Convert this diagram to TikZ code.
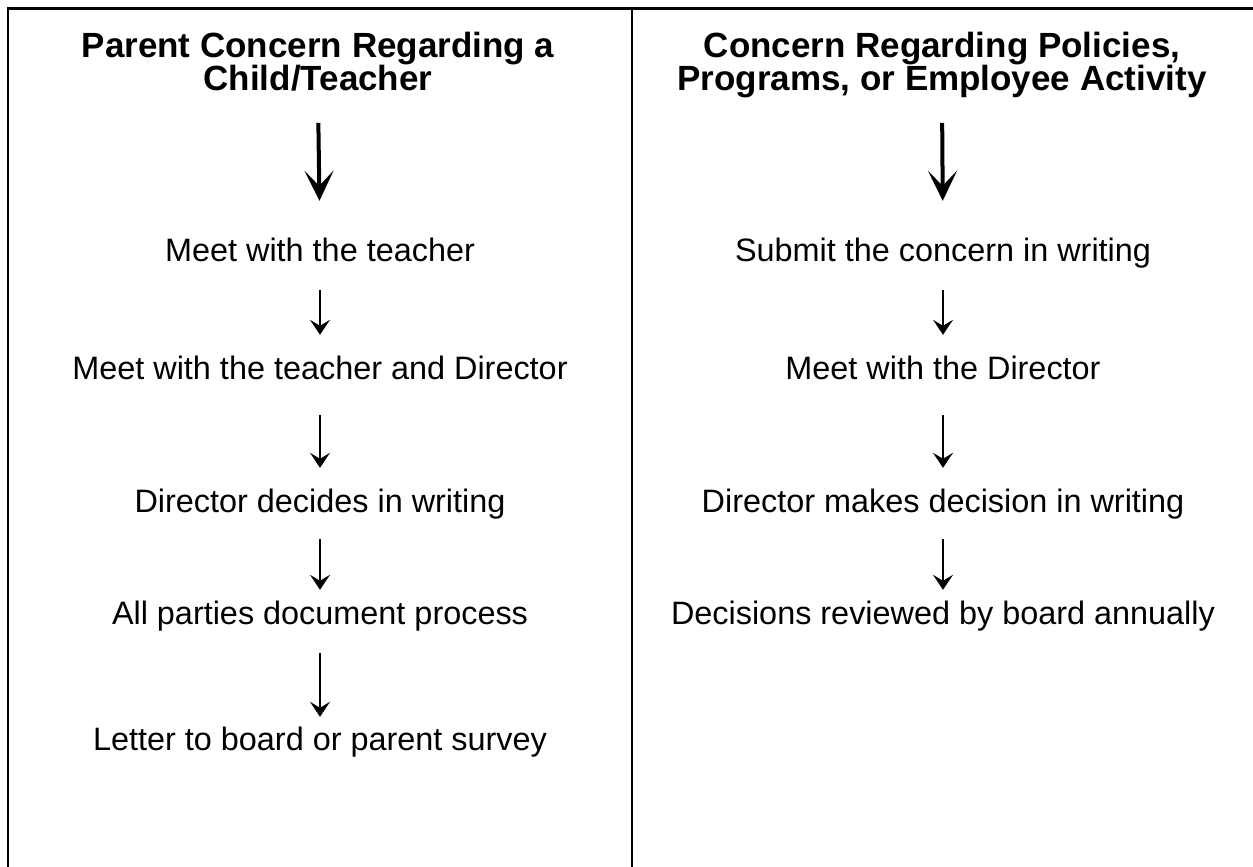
\documentclass[tikz,border=0pt]{standalone}
\usepackage{fontspec}
\setmainfont{Liberation Sans}
\usetikzlibrary{arrows.meta}

\tikzset{
  frame/.style={line width=2.6pt},
  head/.style={inner sep=0pt, anchor=north, align=center,
    font=\fontsize{35}{33}\selectfont\bfseries},
  stepbox/.style={inner sep=0pt, anchor=base, text height=24pt, text depth=7pt,
    font=\fontsize{32.4}{40}\selectfont},
  bigarrow/.style={line width=4pt,
    -{Stealth[length=30pt, width=29pt, inset=15pt]}},
  smallarrow/.style={line width=2.8pt,
    -{Stealth[length=15pt, width=20pt, inset=6pt]}},
  gap/.style 2 args={shorten <=#1pt, shorten >=#2pt}
}

\begin{document}
\begin{tikzpicture}[x=1pt, y=-1pt]
\useasboundingbox (0,0) rectangle (1253,867);

% table rules
\draw[frame] (8,867) -- (8,8.3) -- (1253,8.3);
\draw[frame] (632,8.3) -- (632,867);

% left column
\node[head] (h1) at (318,31.6) {Parent Concern Regarding a\\Child/Teacher\rule[-8pt]{0pt}{8pt}};
\node[stepbox] (l1) at (320,261) {Meet with the teacher};
\node[stepbox] (l2) at (320,379) {Meet with the teacher and Director};
\node[stepbox] (l3) at (320,512) {Director decides in writing};
\node[stepbox] (l4) at (320,624) {All parties document process};
\node[stepbox] (l5) at (320,750) {Letter to board or parent survey};

\draw[bigarrow, gap={24.5}{36}] (h1.south) -- (l1.north);
\draw[smallarrow, gap={22}{20}] (l1.south) -- (l2.north);
\draw[smallarrow, gap={29}{20}] (l2.south) -- (l3.north);
\draw[smallarrow, gap={20}{10}] (l3.south) -- (l4.north);
\draw[smallarrow, gap={22}{9}] (l4.south) -- (l5.north);

% right column
\node[head] (h2) at (942,31.6) {Concern Regarding Policies,\\Programs, or Employee Activity\rule[-8pt]{0pt}{8pt}};
\node[stepbox] (r1) at (943,261) {Submit the concern in writing};
\node[stepbox] (r2) at (943,379) {Meet with the Director};
\node[stepbox] (r3) at (943,512) {Director makes decision in writing};
\node[stepbox] (r4) at (943,624) {Decisions reviewed by board annually};

\draw[bigarrow, gap={24.5}{36}] (h2.south) -- (r1.north);
\draw[smallarrow, gap={22}{20}] (r1.south) -- (r2.north);
\draw[smallarrow, gap={29}{20}] (r2.south) -- (r3.north);
\draw[smallarrow, gap={20}{10}] (r3.south) -- (r4.north);
\end{tikzpicture}
\end{document}
